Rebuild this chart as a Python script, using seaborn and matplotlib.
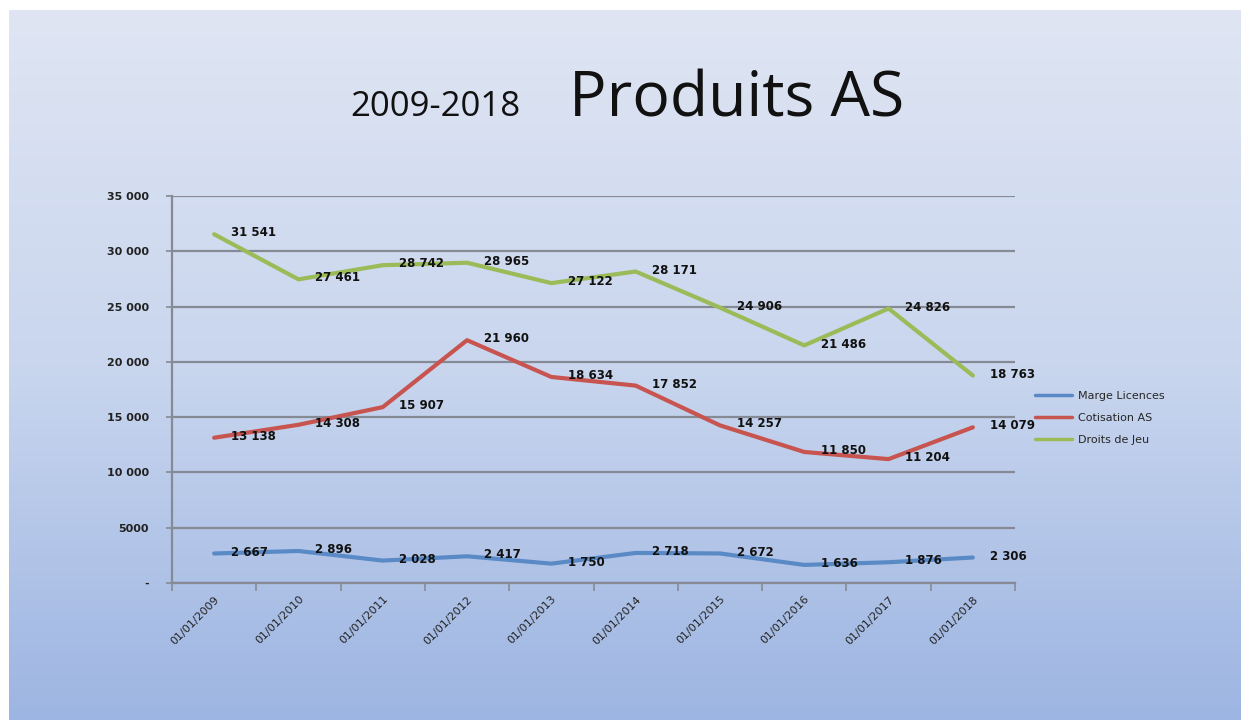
import numpy as np
import pandas as pd
import matplotlib
matplotlib.use("Agg")
import matplotlib.pyplot as plt
import seaborn as sns
from matplotlib.colors import LinearSegmentedColormap

categories = ["01/01/2009", "01/01/2010", "01/01/2011", "01/01/2012", "01/01/2013",
              "01/01/2014", "01/01/2015", "01/01/2016", "01/01/2017", "01/01/2018"]
marge_licences = [2667, 2896, 2028, 2417, 1750, 2718, 2672, 1636, 1876, 2306]
cotisation_as = [13138, 14308, 15907, 21960, 18634, 17852, 14257, 11850, 11204, 14079]
droits_de_jeu = [31541, 27461, 28742, 28965, 27122, 28171, 24906, 21486, 24826, 18763]
series_names = ["Marge Licences", "Cotisation AS", "Droits de Jeu"]
y_ticks = [0, 5000, 10000, 15000, 20000, 25000, 30000, 35000]
y_tick_labels = ["-", "5000", "10 000", "15 000", "20 000", "25 000", "30 000", "35 000"]
colors = ["#5a8ac6", "#c85450", "#9bbb59"]

rows = []
for name, vals in zip(series_names, [marge_licences, cotisation_as, droits_de_jeu]):
    for i, v in enumerate(vals):
        rows.append({"idx": i, "value": v, "serie": name})
df = pd.DataFrame(rows)

sns.set_theme(style="white")
plt.rcParams["font.family"] = ["DejaVu Sans"]

W, H = 1241, 720
fig = plt.figure(figsize=(W / 100, H / 100), dpi=100)
fig.patch.set_facecolor("white")

# gradient background
bg = fig.add_axes([9 / W, 0, 1 - 9 / W, 1 - 10 / H], zorder=-10)
cmap = LinearSegmentedColormap.from_list("bg", ["#dfe5f3", "#c9d6ee", "#9db5e2"])
grad = np.linspace(0, 1, 256).reshape(-1, 1)
bg.imshow(grad, aspect="auto", cmap=cmap, extent=[0, 1, 1, 0])
bg.set_axis_off()

ax = fig.add_axes([172 / W, 137 / H, (1015 - 172) / W, (583 - 196) / H])
ax.set_facecolor("none")

sns.lineplot(data=df, x="idx", y="value", hue="serie", palette=colors,
             hue_order=series_names, linewidth=3, sort=False, ax=ax, legend=True)

grid_col = "#868a94"
ax.set_xlim(-0.5, 9.5)
ax.set_ylim(0, 35000)
ax.set_yticks(y_ticks)
ax.set_yticklabels(y_tick_labels, fontsize=8, fontweight="semibold", color="#222222")
for y in y_ticks:
    ax.axhline(y, color=grid_col, lw=1.6, zorder=0)
ax.tick_params(axis="y", which="major", length=4.5, width=1.2, color=grid_col,
               pad=12, left=True, direction="out")

ax.set_xticks(range(len(categories)))
ax.set_xticklabels(categories, rotation=45, ha="right", rotation_mode="anchor",
                   fontsize=8, color="#222222")
ax.tick_params(axis="x", which="major", length=0, pad=8)
ax.set_xticks(np.arange(-0.5, 10, 1), minor=True)
ax.tick_params(axis="x", which="minor", length=6, width=1.2, color=grid_col,
               bottom=True, direction="out")

for s in ["top", "right"]:
    ax.spines[s].set_visible(False)
ax.spines["left"].set_color(grid_col)
ax.spines["left"].set_linewidth(1.6)
ax.spines["bottom"].set_color(grid_col)
ax.spines["bottom"].set_linewidth(1.6)
ax.set_xlabel("")
ax.set_ylabel("")

def fmt(v):
    return f"{v:,}".replace(",", " ")

for vals in [marge_licences, cotisation_as, droits_de_jeu]:
    for i, v in enumerate(vals):
        ax.annotate(fmt(v), (i, v), xytext=(12, 1), textcoords="offset points",
                    ha="left", va="center", fontsize=8.5, fontweight="bold",
                    color="#111111", zorder=5)

leg = ax.legend(loc="center left", bbox_to_anchor=(1.012, 0.426), frameon=False,
                fontsize=8, handlelength=3.3, handletextpad=0.6, labelspacing=1.1)
for line in leg.get_lines():
    line.set_linewidth(2.5)

fig.text(435 / W, 1 - 107 / H, "2009-2018", fontsize=25, ha="center", va="center",
         family="Open Sans", color="#111111")
fig.text(737 / W, 1 - 100 / H, "Produits AS", fontsize=45, ha="center", va="center",
         family="Open Sans", color="#111111")

fig.savefig("out.png", dpi=100)
